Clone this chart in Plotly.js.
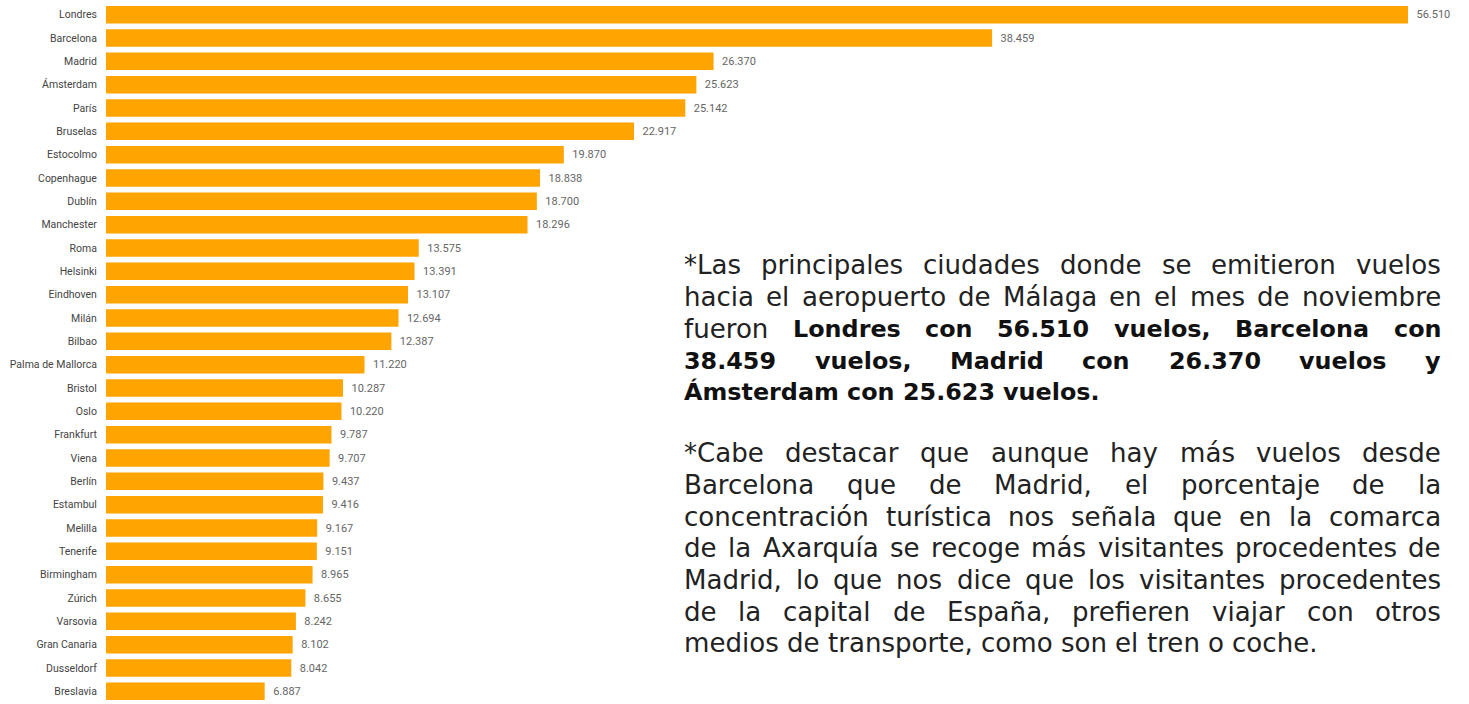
<!DOCTYPE html>
<html>
<head>
<meta charset="utf-8">
<script src="https://cdn.plot.ly/plotly-3.0.1.min.js"></script>
<style>
  html, body { margin: 0; padding: 0; background: #ffffff; }
  #chart { width: 1469px; height: 704px; }
</style>
</head>
<body>
<div id="chart"></div>
<script>
// ---- data ----
const cities = ["Londres","Barcelona","Madrid","Ámsterdam","París","Bruselas","Estocolmo","Copenhague","Dublín","Manchester","Roma","Helsinki","Eindhoven","Milán","Bilbao","Palma de Mallorca","Bristol","Oslo","Frankfurt","Viena","Berlín","Estambul","Melilla","Tenerife","Birmingham","Zúrich","Varsovia","Gran Canaria","Dusseldorf","Breslavia"];
const vuelos = [56510,38459,26370,25623,25142,22917,19870,18838,18700,18296,13575,13391,13107,12694,12387,11220,10287,10220,9787,9707,9437,9416,9167,9151,8965,8655,8242,8102,8042,6887];

const textLines = [
  "*Las principales ciudades donde se emitieron vuelos",
  "hacia el aeropuerto de Málaga en el mes de noviembre",
  "fueron Londres con 56.510 vuelos, Barcelona con",
  "38.459 vuelos, Madrid con 26.370 vuelos y",
  "Ámsterdam con 25.623 vuelos.",
  "*Cabe destacar que aunque hay más vuelos desde",
  "Barcelona que de Madrid, el porcentaje de la",
  "concentración turística nos señala que en la comarca",
  "de la Axarquía se recoge más visitantes procedentes de",
  "Madrid, lo que nos dice que los visitantes procedentes",
  "de la capital de España, prefieren viajar con otros",
  "medios de transporte, como son el tren o coche."
];
const boldFrom = [-1,-1,1,0,0,-1,-1,-1,-1,-1,-1,-1];

// ---- layout helpers ----
const W = 1469, H = 704;
const M = {l: 106, r: 0, t: 3, b: 1};
const lineY = [265,297,329,361,392,453,485,517,548,580,612,643];
const lastOfPara = [4, 11];
const textLeft = 684, textRight = 1441;
const FAM = "DejaVu Sans";

const cv = document.createElement('canvas').getContext('2d');
function mw(t, bold, size) {
  cv.font = (bold ? 'bold ' : '') + size + 'px "' + FAM + '"';
  return cv.measureText(t).width;
}
// calibrate font sizes from the two ragged (non-justified) last lines
const fsR = 100 * (1318 - textLeft) / mw(textLines[11], false, 100);
const fsB = 100 * (1100 - textLeft) / mw(textLines[4], true, 100);

const annotations = [];
textLines.forEach((line, i) => {
  const words = line.split(' ');
  const isBold = words.map((w, k) => boldFrom[i] >= 0 && k >= boldFrom[i]);
  const sizes = isBold.map(b => b ? fsB : fsR);
  const widths = words.map((w, k) => mw(w, isBold[k], sizes[k]));
  const total = widths.reduce((a, b) => a + b, 0);
  const justify = lastOfPara.indexOf(i) < 0;
  const gap = justify ? (textRight - textLeft - total) / (words.length - 1)
                      : mw(' ', isBold[0], sizes[0]);
  let x = textLeft;
  words.forEach((w, k) => {
    annotations.push({
      xref: 'paper', yref: 'paper', x: 0, y: 1,
      xanchor: 'left', yanchor: 'middle',
      xshift: x - M.l - 1, yshift: -(lineY[i] - M.t),
      showarrow: false, text: w, borderpad: 0,
      font: {family: FAM, size: sizes[k], color: isBold[k] ? '#111111' : '#222222', weight: isBold[k] ? 'bold' : 'normal'}
    });
    x += widths[k] + gap;
  });
});

const plotW = W - M.l - M.r;
const xMax = 56510 * plotW / (1408 - M.l);

const trace = {
  type: 'bar', orientation: 'h',
  x: vuelos, y: cities,
  marker: {color: '#ffa400'},
  texttemplate: '\u00a0\u00a0%{x:,}',
  textposition: 'outside',
  cliponaxis: false,
  textfont: {family: 'Roboto', size: 11, color: '#666666'},
  hoverinfo: 'none'
};

const layout = {
  width: W, height: H,
  margin: M,
  paper_bgcolor: '#ffffff', plot_bgcolor: '#ffffff',
  separators: ',.',
  bargap: 0.25,
  showlegend: false,
  xaxis: {range: [0, xMax], showticklabels: false, showgrid: false, zeroline: false, showline: false, fixedrange: true},
  yaxis: {autorange: 'reversed', type: 'category', showgrid: false, zeroline: false, showline: false,
          ticks: 'outside', ticklen: 6, tickcolor: 'rgba(0,0,0,0)',
          tickfont: {family: 'Roboto', size: 10.5, color: '#444444'}, fixedrange: true},
  annotations: annotations
};

Plotly.newPlot('chart', [trace], layout, {displayModeBar: false, staticPlot: true});
</script>
</body>
</html>
